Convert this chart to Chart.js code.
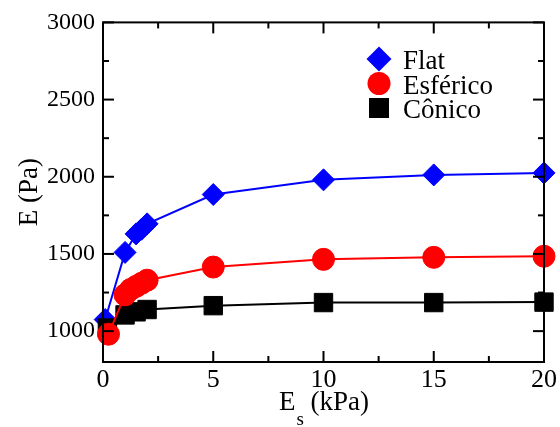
<!DOCTYPE html>
<html>
<head>
<meta charset="utf-8">
<script src="https://cdn.jsdelivr.net/npm/chart.js@4"></script>
<style>
  html, body { margin: 0; padding: 0; background: #fff; }
  #wrap { width: 560px; height: 427px; }
</style>
</head>
<body>
<div id="wrap"><canvas id="myChart" width="560" height="427"></canvas></div>
<script>
// valores
const flatEs = [0.1, 1, 1.5, 1.75, 2, 5, 10, 15, 20];
const flatE  = [1075, 1510, 1630, 1660, 1695, 1885, 1980, 2012, 2025];

const esfEs = [0.25, 1, 1.25, 1.5, 1.75, 2, 5, 10, 15, 20];
const esfE  = [980, 1235, 1270, 1290, 1310, 1330, 1415, 1465, 1478, 1485];

const conEs = [0.2, 1, 1.5, 2, 5, 10, 15, 20];
const conE  = [1020, 1105, 1125, 1140, 1165, 1185, 1185, 1188];

const xTicks = [0, 5, 10, 15, 20];
const yTicks = [1000, 1500, 2000, 2500, 3000];

const serif = '"Liberation Serif", serif';

const pts = (xs, ys) => xs.map((v, i) => ({ x: v, y: ys[i] }));

// moldura, marcas para dentro, legenda e títulos dos eixos
const framePlugin = {
  id: 'frame',
  afterDatasetsDraw(chart) {
    const { ctx, chartArea: a, scales: { x, y } } = chart;
    ctx.save();
    ctx.strokeStyle = '#000';
    ctx.lineWidth = 2;
    ctx.strokeRect(a.left, a.top, a.right - a.left, a.bottom - a.top);

    const line = (x1, y1, x2, y2) => {
      ctx.beginPath(); ctx.moveTo(x1, y1); ctx.lineTo(x2, y2); ctx.stroke();
    };
    xTicks.forEach((v, i) => {
      const px = x.getPixelForValue(v);
      line(px, a.bottom, px, a.bottom - 11);
      line(px, a.top, px, a.top + 11);
      if (i < xTicks.length - 1) {
        const m = x.getPixelForValue((v + xTicks[i + 1]) / 2);
        line(m, a.bottom, m, a.bottom - 6);
        line(m, a.top, m, a.top + 6);
      }
    });
    yTicks.forEach((v, i) => {
      const py = y.getPixelForValue(v);
      line(a.left, py, a.left + 11, py);
      line(a.right, py, a.right - 11, py);
      if (i < yTicks.length - 1) {
        const m = y.getPixelForValue((v + yTicks[i + 1]) / 2);
        line(a.left, m, a.left + 6, m);
        line(a.right, m, a.right - 6, m);
      }
    });

    // legenda
    const lx = 379, tx = 403;
    chart.data.datasets.forEach((ds, i) => {
      const cy = 59 + i * 24.5;
      ctx.fillStyle = ds.pointBackgroundColor;
      ctx.beginPath();
      if (ds.pointStyle === 'rectRot') {
        const r = 12.5;
        ctx.moveTo(lx - r, cy); ctx.lineTo(lx, cy - r); ctx.lineTo(lx + r, cy); ctx.lineTo(lx, cy + r);
        ctx.closePath();
      } else if (ds.pointStyle === 'circle') {
        ctx.arc(lx, cy, 11.5, 0, Math.PI * 2);
      } else {
        ctx.rect(lx - 10, cy - 10, 20, 20);
      }
      ctx.fill();
      ctx.fillStyle = '#000';
      ctx.font = '27px ' + serif;
      ctx.textAlign = 'left';
      ctx.textBaseline = 'alphabetic';
      ctx.fillText(ds.label, tx, 69 + i * 24.5);
    });

    // título do eixo y
    ctx.save();
    ctx.translate(37, (a.top + a.bottom) / 2);
    ctx.rotate(-Math.PI / 2);
    ctx.font = '27px ' + serif;
    ctx.textAlign = 'center';
    ctx.textBaseline = 'alphabetic';
    ctx.fillText('E (Pa)', 0, 0);
    ctx.restore();

    // título do eixo x, com subscrito
    ctx.font = '27px ' + serif;
    const wE = ctx.measureText('E').width;
    const wRest = ctx.measureText(' (kPa)').width;
    ctx.font = '19px ' + serif;
    const wS = ctx.measureText('s').width;
    const sx = (a.left + a.right) / 2 - (wE + wS + wRest) / 2;
    ctx.textAlign = 'left';
    ctx.font = '27px ' + serif;
    ctx.fillText('E', sx, 410);
    ctx.font = '19px ' + serif;
    ctx.fillText('s', sx + wE + 1, 425);
    ctx.font = '27px ' + serif;
    ctx.fillText(' (kPa)', sx + wE + wS + 1, 410);
    ctx.restore();
  }
};

function drawChart() {
  const ctx = document.getElementById('myChart').getContext('2d');
  new Chart(ctx, {
    type: 'scatter',
    data: {
      datasets: [
        {
          label: 'Flat', data: pts(flatEs, flatE), showLine: true,
          borderColor: '#0000ff', backgroundColor: '#0000ff',
          pointBackgroundColor: '#0000ff', pointBorderColor: '#0000ff',
          pointStyle: 'rectRot', pointRadius: 11, pointBorderWidth: 1,
          borderWidth: 2, order: 2, clip: false
        },
        {
          label: 'Esférico', data: pts(esfEs, esfE), showLine: true,
          borderColor: '#ff0000', backgroundColor: '#ff0000',
          pointBackgroundColor: '#ff0000', pointBorderColor: '#ff0000',
          pointStyle: 'circle', pointRadius: 11, pointBorderWidth: 1,
          borderWidth: 2, order: 0, clip: false
        },
        {
          label: 'Cônico', data: pts(conEs, conE), showLine: true,
          borderColor: '#000000', backgroundColor: '#000000',
          pointBackgroundColor: '#000000', pointBorderColor: '#000000',
          pointStyle: 'rect', pointRadius: 13, pointBorderWidth: 1,
          borderWidth: 2, order: 1, clip: false
        }
      ]
    },
    options: {
      responsive: false,
      animation: false,
      layout: { padding: { top: 19, right: 15, left: 0, bottom: 0 } },
      plugins: { legend: { display: false }, tooltip: { enabled: false } },
      scales: {
        x: {
          type: 'linear', min: 0, max: 20,
          afterBuildTicks: s => { s.ticks = xTicks.map(v => ({ value: v })); },
          afterFit: s => { s.height = 65; },
          grid: { display: false, drawTicks: false },
          border: { display: false },
          ticks: {
            color: '#000', font: { family: serif, size: 26 }, padding: 3, maxRotation: 0,
            callback: v => String(v)
          }
        },
        y: {
          type: 'linear', min: 800, max: 3000,
          afterBuildTicks: s => { s.ticks = yTicks.map(v => ({ value: v })); },
          afterFit: s => { s.width = 103; },
          grid: { display: false, drawTicks: false },
          border: { display: false },
          ticks: {
            color: '#000', font: { family: serif, size: 24 }, padding: 8,
            callback: v => String(v)
          }
        }
      }
    },
    plugins: [framePlugin]
  });
}

// garante que a fonte serifada esteja carregada antes de desenhar
Promise.all([
  document.fonts.load('24px "Liberation Serif"'),
  document.fonts.load('27px "Liberation Serif"')
]).then(drawChart, drawChart);
</script>
</body>
</html>
